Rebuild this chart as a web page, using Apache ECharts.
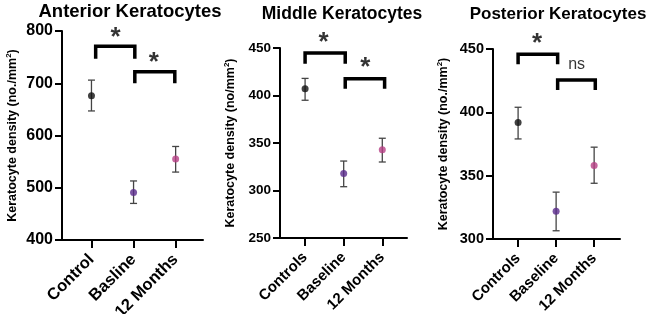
<!DOCTYPE html>
<html>
<head>
<meta charset="utf-8">
<script src="https://cdn.jsdelivr.net/npm/echarts@6/dist/echarts.min.js"></script>
<style>
  html, body { margin: 0; padding: 0; background: #fff; }
  #chart { width: 650px; height: 314px; }
</style>
</head>
<body>
<div id="chart"></div>
<script>
// values (means and error bar ends)
const anteriorCats = ['Control', 'Basline', '12 Months'];
const anteriorMean = [676, 491, 555];
const anteriorLow = [647, 470, 530];
const anteriorHigh = [706, 513, 579];

const middleCats = ['Controls', 'Baseline', '12 Months'];
const middleMean = [407, 318, 343];
const middleLow = [395, 304, 330];
const middleHigh = [418, 331, 355];

const posteriorCats = ['Controls', 'Baseline', '12 Months'];
const posteriorMean = [392, 322, 358];
const posteriorLow = [379, 306.5, 344];
const posteriorHigh = [404, 337, 372.5];

// significance brackets: [x1, x2, top, legBottom]
const anteriorBrackets = [[0.1, 1.03, 771, 747], [1.03, 1.98, 722, 700]];
const middleBrackets = [[0, 1.04, 444.7, 433.4], [1.04, 2.06, 417.6, 407]];
const posteriorBrackets = [[0, 1.04, 445.9, 438], [1.04, 2.03, 425.6, 417.7]];

// labels above the brackets: [x, y, text]
const anteriorMarks = [[0.57, 793.7, '*'], [1.48, 747.4, '*']];
const middleMarks = [[0.48, 459.5, '*'], [1.56, 433, '*']];
const posteriorMarks = [[0.5, 457.6, '*'], [1.54, 437.4, 'ns']];

const groupColors = ['#111111', '#5a2a8c', '#b63f84'];
const font = 'Liberation Sans, Arial, Helvetica, sans-serif';

const chart = echarts.init(document.getElementById('chart'));

const panels = [
  {
    title: 'Anterior Keratocytes', titleX: 130, titleY: 2, titleSize: 18.5,
    cats: anteriorCats, mean: anteriorMean, low: anteriorLow, high: anteriorHigh,
    brackets: anteriorBrackets, marks: anteriorMarks,
    grid: { left: 62, top: 31, width: 141, height: 209 },
    yMin: 400, yMax: 800, yStep: 100, xMin: -0.7, xMax: 2.65,
    yName: 'Keratocyte density (no./mm{sup|2})', ySize: 16, xSize: 16.5
  },
  {
    title: 'Middle Keratocytes', titleX: 342, titleY: 5, titleSize: 17.5,
    cats: middleCats, mean: middleMean, low: middleLow, high: middleHigh,
    brackets: middleBrackets, marks: middleMarks,
    grid: { left: 280, top: 48, width: 127, height: 190 },
    yMin: 250, yMax: 450, yStep: 50, xMin: -0.65, xMax: 2.64,
    yName: 'Keratocyte density (no/mm{sup|2})', ySize: 13.5, xSize: 15
  },
  {
    title: 'Posterior Keratocytes', titleX: 558, titleY: 6, titleSize: 17,
    cats: posteriorCats, mean: posteriorMean, low: posteriorLow, high: posteriorHigh,
    brackets: posteriorBrackets, marks: posteriorMarks,
    grid: { left: 493, top: 49, width: 127, height: 190 },
    yMin: 300, yMax: 450, yStep: 50, xMin: -0.66, xMax: 2.68,
    yName: 'Keratocyte density (no./mm{sup|2})', ySize: 14.5, xSize: 15
  }
];

const title = [];
const grid = [];
const xAxis = [];
const yAxis = [];
const series = [];

panels.forEach((p, i) => {
  title.push({
    text: p.title,
    left: p.titleX,
    top: p.titleY,
    textAlign: 'center',
    padding: 0,
    textStyle: { fontFamily: font, fontWeight: 'bold', fontSize: p.titleSize, color: '#000' }
  });
  grid.push(Object.assign({ containLabel: false, outerBoundsMode: 'none' }, p.grid));
  xAxis.push({
    gridIndex: i,
    type: 'value',
    min: p.xMin,
    max: p.xMax,
    splitLine: { show: false },
    axisLine: { show: true, onZero: false, lineStyle: { color: '#000', width: 2 } },
    axisTick: { show: true, customValues: [0, 1, 2], length: 8, lineStyle: { color: '#000', width: 2 } },
    axisLabel: {
      customValues: [0, 1, 2],
      formatter: (v) => p.cats[Math.round(v)],
      rotate: 45,
      margin: 17,
      fontFamily: font,
      fontWeight: 'bold',
      fontSize: p.xSize,
      color: '#000'
    }
  });
  yAxis.push({
    gridIndex: i,
    type: 'value',
    min: p.yMin,
    max: p.yMax,
    interval: p.yStep,
    splitLine: { show: false },
    axisLine: { show: true, onZero: false, lineStyle: { color: '#000', width: 2 } },
    axisTick: { show: true, length: 7, lineStyle: { color: '#000', width: 2 } },
    axisLabel: { margin: 9, fontFamily: font, fontWeight: 'bold', fontSize: p.ySize, color: '#000' },
    name: p.yName,
    nameLocation: 'middle',
    nameGap: 42,
    nameTextStyle: {
      fontFamily: font, fontWeight: 'bold', fontSize: 12.5, color: '#000',
      rich: { sup: { fontFamily: font, fontWeight: 'bold', fontSize: 8, color: '#000', padding: [0, 0, 7, 0] } }
    }
  });

  // error bars
  series.push({
    type: 'custom',
    xAxisIndex: i,
    yAxisIndex: i,
    data: p.cats.map((c, k) => [k, p.low[k], p.high[k]]),
    encode: { x: 0, y: [1, 2] },
    z: 2,
    renderItem: (params, api) => {
      const x = api.value(0);
      const lo = api.coord([x, api.value(1)]);
      const hi = api.coord([x, api.value(2)]);
      const w = 3.5;
      const style = { stroke: '#444', lineWidth: 1.3 };
      return {
        type: 'group',
        children: [
          { type: 'line', shape: { x1: lo[0], y1: lo[1], x2: hi[0], y2: hi[1] }, style },
          { type: 'line', shape: { x1: lo[0] - w, y1: lo[1], x2: lo[0] + w, y2: lo[1] }, style },
          { type: 'line', shape: { x1: hi[0] - w, y1: hi[1], x2: hi[0] + w, y2: hi[1] }, style }
        ]
      };
    }
  });

  // means
  series.push({
    type: 'scatter',
    xAxisIndex: i,
    yAxisIndex: i,
    symbolSize: 7,
    z: 3,
    data: p.mean.map((m, k) => ({ value: [k, m], itemStyle: { color: groupColors[k] } }))
  });

  // brackets
  p.brackets.forEach((b) => {
    series.push({
      type: 'line',
      xAxisIndex: i,
      yAxisIndex: i,
      symbol: 'none',
      silent: true,
      clip: false,
      lineStyle: { color: '#000', width: 3.5, join: 'miter', cap: 'butt' },
      data: [[b[0], b[3]], [b[0], b[2]], [b[1], b[2]], [b[1], b[3]]]
    });
  });

  // significance labels: bold star, plain 'ns'
  series.push({
    type: 'scatter',
    xAxisIndex: i,
    yAxisIndex: i,
    symbolSize: 0,
    clip: false,
    silent: true,
    data: p.marks.map((m) => ({
      value: [m[0], m[1]],
      name: m[2],
      label: m[2] === '*'
        ? { fontSize: 26, fontWeight: 'bold', offset: [0, 4] }
        : { fontSize: 16, fontWeight: 'normal' }
    })),
    label: {
      show: true,
      position: 'inside',
      formatter: (d) => d.name,
      fontFamily: font,
      color: '#000'
    }
  });
});

chart.setOption({
  animation: false,
  backgroundColor: '#fff',
  title,
  grid,
  xAxis,
  yAxis,
  series
});
</script>
</body>
</html>
